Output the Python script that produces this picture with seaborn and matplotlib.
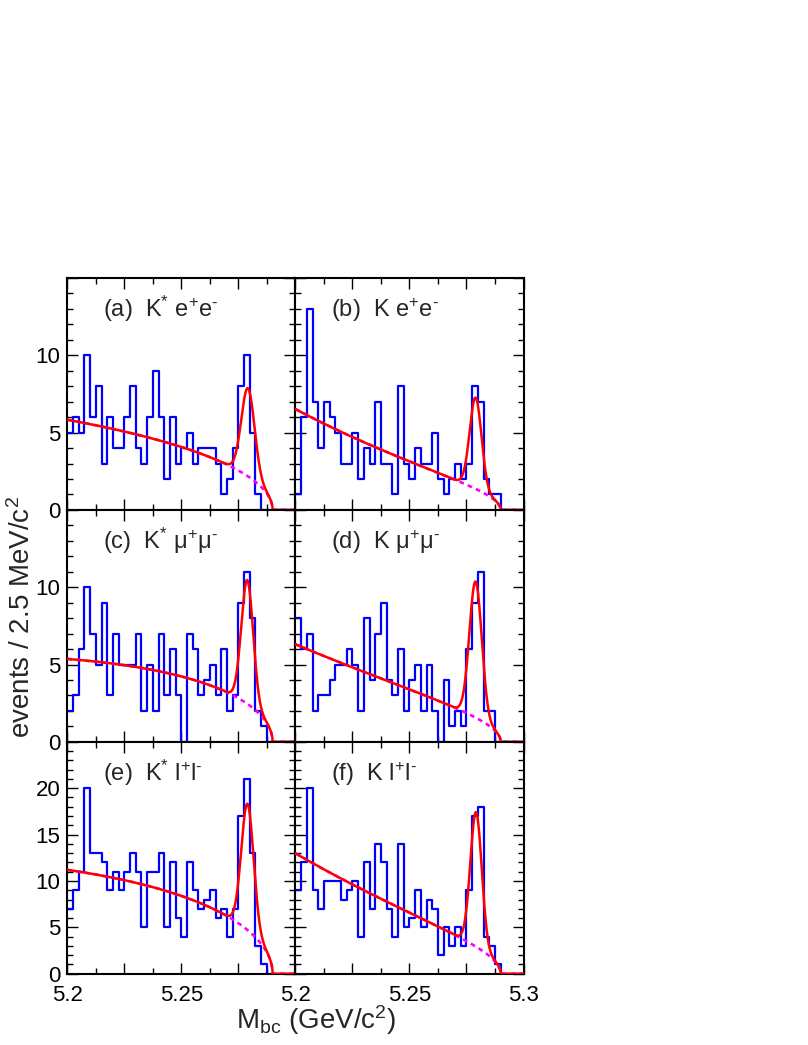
import numpy as np
import matplotlib
matplotlib.use("Agg")
import matplotlib.pyplot as plt
from matplotlib.ticker import MultipleLocator, FuncFormatter
import seaborn as sns

# Mbc spectra: 40 bins of 2.5 MeV/c^2 between 5.2 and 5.3 GeV/c^2
kst_ee = [5, 6, 5, 10, 6, 8, 3, 6, 4, 4, 6, 8, 4, 3, 6, 9, 6, 2, 6, 3,
          4, 5, 3, 4, 4, 4, 3, 1, 2, 4, 8, 10, 5, 1, 0, 0, 0, 0, 0, 0]
k_ee = [1, 6, 13, 7, 4, 7, 6, 5, 3, 3, 5, 2, 4, 3, 7, 3, 3, 1, 8, 3,
        2, 4, 3, 3, 5, 2, 1, 2, 3, 2, 3, 8, 7, 2, 1, 1, 0, 0, 0, 0]
kst_mm = [2, 3, 6, 10, 7, 5, 9, 3, 7, 5, 5, 5, 7, 2, 5, 2, 7, 3, 6, 3,
          0, 7, 6, 3, 4, 5, 3, 6, 2, 3, 9, 11, 8, 2, 1, 0, 0, 0, 0, 0]
k_mm = [8, 6, 7, 2, 3, 3, 4, 5, 5, 6, 5, 2, 8, 4, 7, 9, 4, 3, 6, 2,
        4, 5, 2, 5, 2, 0, 4, 1, 2, 1, 6, 9, 11, 2, 2, 0, 0, 0, 0, 0]
kst_ll = [7, 9, 11, 20, 13, 13, 12, 9, 11, 9, 11, 13, 11, 5, 11, 11, 13, 5, 12, 6,
          4, 12, 9, 7, 8, 9, 6, 7, 4, 7, 17, 21, 13, 3, 1, 0, 0, 0, 0, 0]
k_ll = [9, 12, 20, 9, 7, 10, 10, 10, 8, 9, 10, 4, 12, 7, 14, 12, 7, 4, 14, 5,
        6, 9, 5, 8, 7, 2, 5, 3, 5, 3, 9, 17, 18, 4, 3, 1, 0, 0, 0, 0]

panel_tags = ["(a)", "(b)", "(c)", "(d)", "(e)", "(f)"]
channels = [r"$\mathrm{K}^{*}$ $\mathrm{e}^{+}\mathrm{e}^{‐}$",
            r"K $\mathrm{e}^{+}\mathrm{e}^{‐}$",
            r"$\mathrm{K}^{*}$ $\mathrm{μ}^{+}\mathrm{μ}^{‐}$",
            r"K $\mathrm{μ}^{+}\mathrm{μ}^{‐}$",
            r"$\mathrm{K}^{*}$ $\mathrm{l}^{+}\mathrm{l}^{‐}$",
            r"K $\mathrm{l}^{+}\mathrm{l}^{‐}$"]
counts = [kst_ee, k_ee, kst_mm, k_mm, kst_ll, k_ll]

# fit results: ARGUS background + gaussian signal
bkg_at_low = [5.83, 6.52, 5.36, 6.31, 11.2, 12.98]
argus_c = [-1.8, 18.1, -8.4, 12.2, -5.6, 15.3]
sig_height = [5.7, 5.9, 8.0, 8.8, 13.6, 14.5]
sig_mean = [5.2792, 5.2790, 5.2789, 5.2790, 5.2790, 5.2792]
sig_sigma = [0.0029, 0.0026, 0.0026, 0.0027, 0.0027, 0.0025]
y_top = [15, 15, 15, 15, 25, 25]

E_BEAM = 5.29
M_LOW, M_HIGH = 5.2, 5.3
N_BINS = 40


def argus(m, norm, c):
    u = np.clip(1 - (m / E_BEAM) ** 2, 0, None)
    u0 = 1 - (M_LOW / E_BEAM) ** 2
    return norm * (m / M_LOW) * np.sqrt(u / u0) * np.exp(c * (u - u0))


sns.set_theme(style="ticks")
plt.rcParams['font.family'] = ['Liberation Sans', 'DejaVu Sans']
plt.rcParams['mathtext.fontset'] = 'custom'
plt.rcParams['mathtext.rm'] = 'Liberation Sans'
plt.rcParams['mathtext.it'] = 'Liberation Sans'
plt.rcParams['axes.linewidth'] = 1.5
plt.rcParams['axes.edgecolor'] = 'black'

fig, axes = plt.subplots(3, 2, figsize=(8.08, 10.45), dpi=100)
plt.subplots_adjust(left=0.0833, right=0.6479, bottom=0.0682, top=0.7340,
                    wspace=0, hspace=0)

centers = M_LOW + (np.arange(N_BINS) + 0.5) * (M_HIGH - M_LOW) / N_BINS
m = np.linspace(M_LOW, M_HIGH, 1200)

for i, ax in enumerate(axes.flat):
    row, col = divmod(i, 2)

    sns.histplot(x=centers, weights=counts[i], bins=N_BINS, binrange=(M_LOW, M_HIGH),
                 element="step", fill=False, color="#0000ff", linewidth=1.6, ax=ax)

    bkg = argus(m, bkg_at_low[i], argus_c[i])
    sig = sig_height[i] * np.exp(-0.5 * ((m - sig_mean[i]) / sig_sigma[i]) ** 2)
    ax.plot(m, bkg, color="#ff00ff", lw=1.9, linestyle=(0, (1.8, 1.6)), zorder=3)
    ax.plot(m, bkg + sig, color="#ff0000", lw=1.8, zorder=4)

    ax.set_xlim(M_LOW, M_HIGH)
    ax.set_ylim(0, y_top[i])
    ax.set_xlabel("")
    ax.set_ylabel("")

    ax.xaxis.set_major_locator(MultipleLocator(0.025))
    ax.xaxis.set_minor_locator(MultipleLocator(0.0125))
    ax.yaxis.set_major_locator(MultipleLocator(5))
    ax.yaxis.set_minor_locator(MultipleLocator(1))

    top = y_top[i]
    ax.yaxis.set_major_formatter(FuncFormatter(
        lambda v, p, top=top: f"{v:g}" if v < top - 0.5 else ""))
    hide_end = (col == 0)
    ax.xaxis.set_major_formatter(FuncFormatter(
        lambda v, p, hide_end=hide_end: ""
        if (round(v * 1000) % 50 != 0 or (hide_end and v > 5.29)) else f"{v:g}"))

    ax.tick_params(which='both', direction='in', top=True, right=True,
                   width=1.0, colors='black', labelsize=16)
    ax.tick_params(axis='y', pad=5)
    ax.tick_params(axis='x', pad=8)
    ax.tick_params(which='major', length=8)
    ax.tick_params(which='minor', length=4.3)
    ax.tick_params(labelleft=(col == 0), labelbottom=(row == 2))

    ax.text(0.155, 0.83, panel_tags[i] + "  " + channels[i], transform=ax.transAxes,
            fontsize=17, va='baseline', ha='left')

fig.text(0.027, 0.41, r"events / 2.5 MeV/c$^{\mathrm{2}}$", rotation=90,
         fontsize=20, ha='center', va='center')
fig.text(0.391, 0.0235, r"M$_{\mathrm{bc}}$ (GeV/c$^{\mathrm{2}}$)",
         fontsize=20, ha='center', va='center')

plt.savefig("out.png", dpi=100)
